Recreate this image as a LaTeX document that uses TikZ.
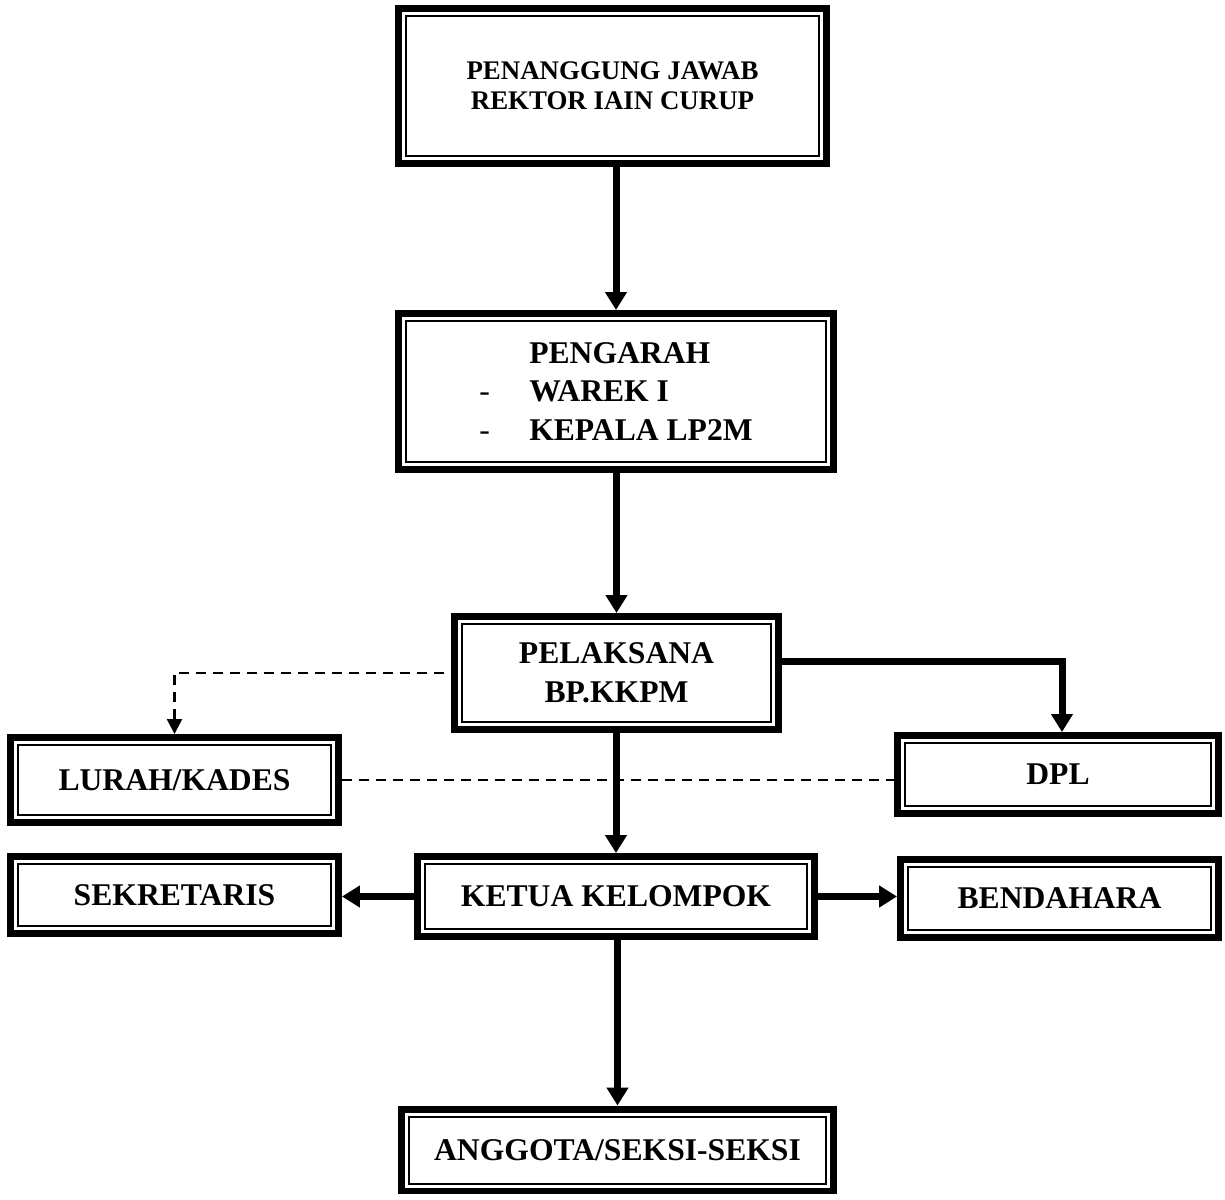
\documentclass[tikz,border=0pt]{standalone}
\usepackage{fontspec}
\setmainfont{Liberation Serif}
\usetikzlibrary{arrows.meta}

\tikzset{
  kotak/.style={draw,line width=0.14cm,inner sep=0pt,align=center,
    font=\fontsize{18}{22}\selectfont\bfseries},
  panah/.style={->,line width=0.14cm},
  putus/.style={line width=0.05cm,dash pattern=on 0.2cm off 0.14cm,
    -{Triangle[length=0.3cm,width=0.3cm]}},
  garis/.style={line width=0.05cm,dash pattern=on 0.2cm off 0.14cm}
}

\begin{document}
\begin{tikzpicture}[x=0.02cm,y=-0.02cm,>={Triangle[length=0.36cm,width=0.42cm]}]
\useasboundingbox (0,0) rectangle (1225,1200);

% kotak-kotak
\node[kotak,minimum width=8.56cm,minimum height=3.10cm,
  font=\fontsize{15.3}{17}\selectfont\bfseries] (pj) at (612.5,86)
  {PENANGGUNG JAWAB\\REKTOR IAIN CURUP};
\node[kotak,minimum width=8.70cm,minimum height=3.12cm,align=left] (pg) at (616,391.5)
  {\makebox[1cm][l]{}PENGARAH\\
   \makebox[1cm][l]{\mdseries -}WAREK I\\
   \makebox[1cm][l]{\mdseries -}KEPALA LP2M};
\node[kotak,minimum width=6.48cm,minimum height=2.26cm] (pl) at (616.5,673)
  {PELAKSANA\\BP.KKPM};
\node[kotak,minimum width=6.56cm,minimum height=1.70cm] (lk) at (174.5,780) {LURAH/KADES};
\node[kotak,minimum width=6.42cm,minimum height=1.56cm] (dpl) at (1058,774.5) {DPL};
\node[kotak,minimum width=7.94cm,minimum height=1.60cm] (kt) at (616,896.5) {KETUA KELOMPOK};
\node[kotak,minimum width=6.56cm,minimum height=1.54cm] (sk) at (174.5,895) {SEKRETARIS};
\node[kotak,minimum width=6.36cm,minimum height=1.56cm] (bd) at (1059.5,898.5) {BENDAHARA};
\node[kotak,minimum width=8.64cm,minimum height=1.64cm] (ag) at (617.5,1150) {ANGGOTA/SEKSI-SEKSI};

% garis dalam (bingkai ganda)
\foreach \n in {pj,pg,pl,lk,dpl,kt,sk,bd,ag}
  \draw[line width=0.04cm] ([shift={(0.22cm,0.22cm)}]\n.south west)
    rectangle ([shift={(-0.22cm,-0.22cm)}]\n.north east);

% panah
\draw[panah] (pg.north |- pj.south) -- (pg.north);
\draw[panah] (pl.north |- pg.south) -- (pl.north);
\draw[panah] (kt.north |- pl.south) -- (kt.north);
\draw[panah] (ag.north |- kt.south) -- (ag.north);
\draw[panah] (kt.west) -- (sk.east |- kt.west);
\draw[panah] (kt.east) -- (bd.west |- kt.east);
\draw[panah] ([yshift=0.24cm]pl.east) -| ([xshift=0.08cm]dpl.north);

% garis putus-putus
\draw[putus,shorten <=0.14cm] (pl.west) -| (lk.north);
\draw[garis] (lk.east) -- (dpl.west |- lk.east);

\end{tikzpicture}
\end{document}
